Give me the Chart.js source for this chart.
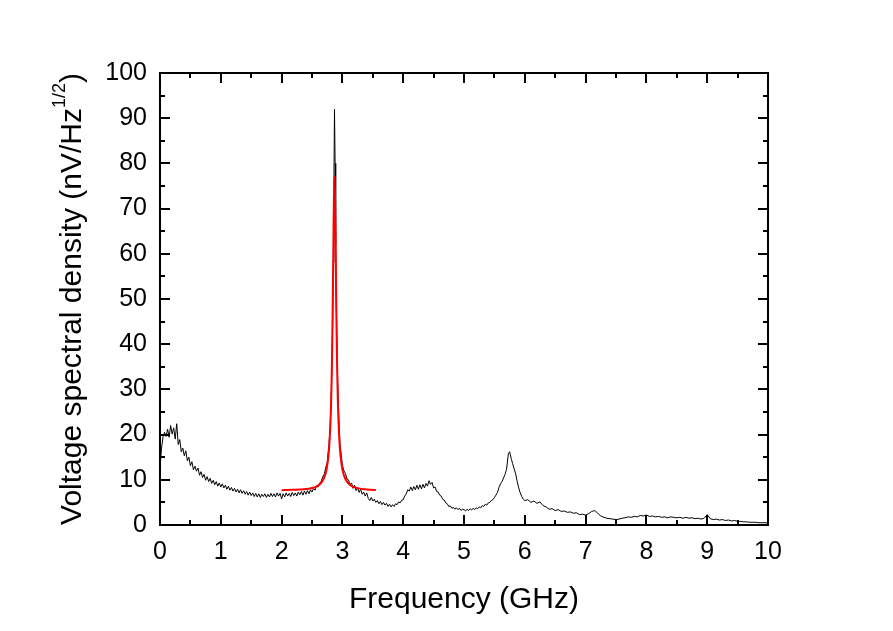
<!DOCTYPE html>
<html>
<head>
<meta charset="utf-8">
<script src="https://cdn.jsdelivr.net/npm/chart.js@4.4.0/dist/chart.umd.min.js"></script>
<style>
  html, body { margin: 0; padding: 0; background: #fff; }
  #wrap { width: 893px; height: 631px; position: relative; }
</style>
</head>
<body>
<div id="wrap"><canvas id="vsdChart"></canvas></div>
<script>
// measured spectrum (GHz, nV/Hz^1/2)
const spectrumFreq = [
  0.000, 0.025, 0.050, 0.075, 0.100, 0.125, 0.150, 0.175, 0.200, 0.225,
  0.250, 0.275, 0.300, 0.325, 0.350, 0.375, 0.400, 0.425, 0.450, 0.475,
  0.500, 0.525, 0.550, 0.575, 0.600, 0.625, 0.650, 0.675, 0.700, 0.725,
  0.750, 0.775, 0.800, 0.825, 0.850, 0.875, 0.900, 0.925, 0.950, 0.975,
  1.000, 1.025, 1.050, 1.075, 1.100, 1.125, 1.150, 1.175, 1.200, 1.225,
  1.250, 1.275, 1.300, 1.325, 1.350, 1.375, 1.400, 1.425, 1.450, 1.475,
  1.500, 1.525, 1.550, 1.575, 1.600, 1.625, 1.650, 1.675, 1.700, 1.725,
  1.750, 1.775, 1.800, 1.825, 1.850, 1.875, 1.900, 1.925, 1.950, 1.975,
  2.000, 2.025, 2.050, 2.075, 2.100, 2.125, 2.150, 2.175, 2.200, 2.225,
  2.250, 2.275, 2.300, 2.325, 2.350, 2.375, 2.400, 2.425, 2.450, 2.475,
  2.500, 2.525, 2.550, 2.575, 2.600, 2.625, 2.650, 2.675, 2.700, 2.725,
  2.750,
  2.78, 2.80, 2.82, 2.84, 2.85, 2.86, 2.87, 2.88, 2.89, 2.90, 2.92, 2.94, 2.96,
  3.000, 3.025, 3.050, 3.075, 3.100, 3.125, 3.150, 3.175, 3.200, 3.225,
  3.250, 3.275, 3.300, 3.325, 3.350, 3.375, 3.400, 3.425, 3.450, 3.475,
  3.500, 3.525, 3.550, 3.575, 3.600, 3.625, 3.650, 3.675, 3.700, 3.725,
  3.750, 3.775, 3.800, 3.825, 3.850, 3.875, 3.900, 3.925, 3.950, 3.975,
  4.000, 4.025, 4.050, 4.075, 4.100, 4.125, 4.150, 4.175, 4.200, 4.225,
  4.250, 4.275, 4.300, 4.325, 4.350, 4.375, 4.400, 4.425, 4.450, 4.475,
  4.500, 4.525, 4.550, 4.575, 4.600, 4.625, 4.650, 4.675, 4.700, 4.725,
  4.750, 4.775, 4.800, 4.825, 4.850, 4.875, 4.900, 4.925, 4.950, 4.975,
  5.000, 5.025, 5.050, 5.075, 5.100, 5.125, 5.150, 5.175, 5.200, 5.225,
  5.250, 5.275, 5.300, 5.325, 5.350, 5.375, 5.400, 5.425, 5.450, 5.475,
  5.500, 5.525, 5.550, 5.575, 5.600, 5.625, 5.650, 5.675, 5.700,
  5.730, 5.750, 5.780, 5.800, 5.825, 5.850, 5.875, 5.900, 5.925, 5.950, 5.975,
  6.00, 6.05, 6.10, 6.15, 6.20, 6.25, 6.30, 6.35, 6.40, 6.45,
  6.50, 6.55, 6.60, 6.65, 6.70, 6.75, 6.80, 6.85, 6.90, 6.95,
  7.00, 7.05, 7.10, 7.15, 7.20, 7.25, 7.30, 7.35, 7.40, 7.45,
  7.50, 7.55, 7.60, 7.65, 7.70, 7.75, 7.80, 7.85, 7.90, 7.95,
  8.00, 8.05, 8.10, 8.15, 8.20, 8.25, 8.30, 8.35, 8.40, 8.45,
  8.50, 8.55, 8.60, 8.65, 8.70, 8.75, 8.80, 8.85, 8.90, 8.95,
  9.00, 9.05, 9.10, 9.15, 9.20, 9.25, 9.30, 9.35, 9.40, 9.45,
  9.50, 9.55, 9.60, 9.65, 9.70, 9.75, 9.80, 9.85, 9.90, 9.95, 10.00
];
const spectrumVsd = [
  12.5, 17.0, 19.5, 20.5, 19.6, 21.2, 19.4, 22.0, 20.1, 21.5,
  19.0, 22.4, 17.8, 18.9, 16.2, 17.0, 15.3, 16.4, 14.2, 15.0,
  13.1, 14.0, 12.2, 13.0, 11.9, 12.6, 11.0, 11.8, 10.5, 11.2,
  9.9, 10.7, 9.6, 10.3, 9.2, 9.9, 8.9, 9.6, 8.6, 9.3,
  8.4, 9.1, 8.2, 8.8, 7.9, 8.6, 7.7, 8.3, 7.5, 8.1,
  7.3, 7.9, 7.1, 7.8, 7.0, 7.6, 6.8, 7.4, 6.6, 7.3,
  6.5, 7.1, 6.3, 7.0, 6.2, 6.9, 6.1, 6.8, 6.3, 6.9,
  6.1, 6.8, 6.2, 7.0, 6.3, 6.9, 6.2, 7.1, 6.4, 7.0,
  5.8, 6.9, 6.2, 7.1, 6.4, 7.0, 6.3, 7.2, 6.5, 7.1,
  6.4, 7.3, 6.7, 7.4, 6.6, 7.5, 6.8, 7.6, 6.9, 7.8,
  7.3, 8.1, 7.7, 8.6, 8.4, 9.3, 9.6, 10.6, 11.2, 12.6,
  13.8,
  18.0, 22.0, 30.0, 45.0, 58.0, 75.0, 92.0, 80.0, 62.0, 48.0, 33.0, 24.0, 18.0,
  13.2, 12.0, 11.4, 10.2, 10.0, 8.9, 9.3, 8.1, 8.8, 7.6,
  8.2, 7.2, 7.9, 6.8, 7.3, 6.4, 7.1, 5.9, 5.4, 6.1,
  5.3, 5.7, 5.0, 5.4, 4.7, 5.2, 4.5, 5.0, 4.4, 4.8,
  4.1, 4.6, 4.0, 4.5, 4.1, 4.7, 4.5, 5.1, 4.9, 5.5,
  5.6, 6.4, 6.9, 7.8, 7.5, 8.4, 7.6, 8.5, 7.8, 8.8,
  7.9, 8.9, 8.0, 9.0, 8.2, 9.2, 8.6, 9.8, 9.0, 9.4,
  8.2, 8.4, 7.4, 7.3, 6.6, 6.4, 5.7, 5.5, 4.9, 4.7,
  4.1, 4.2, 3.7, 3.9, 3.5, 3.8, 3.4, 3.7, 3.2, 3.5,
  3.4, 3.1, 3.5, 3.2, 3.6, 3.3, 3.7, 3.4, 3.8, 3.6,
  4.0, 3.8, 4.3, 4.1, 4.6, 4.4, 4.9, 5.0, 5.4, 5.6,
  6.1, 6.6, 7.2, 8.3, 9.1, 9.6, 10.4, 11.2, 12.3,
  15.8, 16.2, 14.5, 13.6, 12.4, 11.3, 9.6, 8.2, 7.1, 6.3, 5.7,
  5.4, 5.6, 5.0, 5.3, 4.8, 5.1, 4.3, 4.0, 3.5, 3.6,
  3.2, 3.4, 3.0, 3.1, 2.8, 2.9, 2.6, 2.7, 2.3, 2.4,
  2.2, 2.5, 3.0, 3.2, 2.6, 2.0, 1.7, 1.5, 1.4, 1.3,
  1.2, 1.3, 1.5, 1.6, 1.8, 1.7, 1.9, 1.8, 2.1, 2.0,
  2.2, 1.9, 2.0, 1.8, 1.9, 1.7, 1.8, 1.6, 1.8, 1.7,
  1.6, 1.7, 1.5, 1.7, 1.5, 1.6, 1.4, 1.5, 1.3, 1.5,
  2.3, 1.4, 1.2, 1.3, 1.1, 1.2, 1.0, 1.1, 0.9, 1.0,
  0.8, 0.8, 0.7, 0.7, 0.6, 0.6, 0.6, 0.5, 0.5, 0.5, 0.5
];

// fitted resonance (red)
const fitFreq = [
  2.00, 2.10, 2.20, 2.30, 2.40, 2.50, 2.57, 2.62, 2.67, 2.71,
  2.74, 2.77, 2.79, 2.81, 2.82, 2.83, 2.84, 2.85, 2.86, 2.87,
  2.88, 2.89, 2.90, 2.91, 2.92, 2.93, 2.95, 2.97, 3.00, 3.03,
  3.07, 3.12, 3.17, 3.27, 3.37, 3.47, 3.55
];
const fitVsd = [
  7.7, 7.75, 7.8, 7.85, 7.95, 8.2, 8.5, 8.9, 9.7, 10.8,
  12.3, 15.2, 18.8, 25.2, 30.5, 37.7, 47.7, 60.0, 71.9, 77.1,
  71.9, 60.0, 47.7, 37.7, 30.5, 25.2, 18.8, 15.2, 12.3, 10.8,
  9.7, 8.9, 8.5, 8.1, 7.9, 7.8, 7.75
];

const xTicks = [0, 1, 2, 3, 4, 5, 6, 7, 8, 9, 10];
const yTicks = [0, 10, 20, 30, 40, 50, 60, 70, 80, 90, 100];

const FONT = "'Liberation Sans', Arial, sans-serif";

function toPoints(xs, ys) {
  return xs.map((x, i) => ({ x: x, y: ys[i] }));
}

// frame + inward ticks on all four sides, and the y title with superscript
const framePlugin = {
  id: 'frame',
  afterDatasetsDraw(chart) {
    const { ctx, chartArea: a, scales } = chart;
    const sx = scales.x, sy = scales.y;
    ctx.save();
    ctx.strokeStyle = '#000';
    ctx.lineWidth = 2;
    ctx.strokeRect(a.left, a.top, a.right - a.left, a.bottom - a.top);

    ctx.beginPath();
    xTicks.forEach((v, i) => {
      const px = Math.round(sx.getPixelForValue(v));
      ctx.moveTo(px, a.bottom); ctx.lineTo(px, a.bottom - 10);
      ctx.moveTo(px, a.top); ctx.lineTo(px, a.top + 10);
      if (i < xTicks.length - 1) {
        const mx = Math.round(sx.getPixelForValue((v + xTicks[i + 1]) / 2));
        ctx.moveTo(mx, a.bottom); ctx.lineTo(mx, a.bottom - 5);
        ctx.moveTo(mx, a.top); ctx.lineTo(mx, a.top + 5);
      }
    });
    yTicks.forEach((v, i) => {
      const py = Math.round(sy.getPixelForValue(v));
      ctx.moveTo(a.left, py); ctx.lineTo(a.left + 10, py);
      ctx.moveTo(a.right, py); ctx.lineTo(a.right - 10, py);
      if (i < yTicks.length - 1) {
        const my = Math.round(sy.getPixelForValue((v + yTicks[i + 1]) / 2));
        ctx.moveTo(a.left, my); ctx.lineTo(a.left + 5, my);
        ctx.moveTo(a.right, my); ctx.lineTo(a.right - 5, my);
      }
    });
    ctx.stroke();
    ctx.restore();
  },
  afterDraw(chart) {
    const { ctx, chartArea: a } = chart;
    const main = 'Voltage spectral density (nV/Hz';
    const sup = '1/2';
    const close = ')';
    ctx.save();
    ctx.fillStyle = '#000';
    ctx.textBaseline = 'middle';
    ctx.textAlign = 'left';
    ctx.font = '30px ' + FONT;
    const w1 = ctx.measureText(main).width;
    const w3 = ctx.measureText(close).width;
    ctx.font = '18px ' + FONT;
    const w2 = ctx.measureText(sup).width;
    const total = w1 + w2 + w3;
    ctx.translate(73, (a.top + a.bottom) / 2);
    ctx.rotate(-Math.PI / 2);
    let x0 = -total / 2;
    ctx.font = '30px ' + FONT;
    ctx.fillText(main, x0, 0);
    ctx.font = '18px ' + FONT;
    ctx.fillText(sup, x0 + w1, -13);
    ctx.font = '30px ' + FONT;
    ctx.fillText(close, x0 + w1 + w2, 0);
    ctx.restore();
  }
};

new Chart(document.getElementById('vsdChart'), {
  type: 'line',
  data: {
    datasets: [
      {
        label: 'fit',
        data: toPoints(fitFreq, fitVsd),
        borderColor: '#ff0000',
        borderWidth: 2,
        pointRadius: 0,
        tension: 0.3,
        order: 0
      },
      {
        label: 'spectrum',
        data: toPoints(spectrumFreq, spectrumVsd),
        borderColor: '#000000',
        borderWidth: 1,
        pointRadius: 0,
        tension: 0,
        order: 1
      }
    ]
  },
  options: {
    responsive: true,
    maintainAspectRatio: false,
    animation: false,
    layout: { padding: { top: 73, right: 125, left: 0, bottom: 0 } },
    plugins: {
      legend: { display: false },
      tooltip: { enabled: false }
    },
    scales: {
      x: {
        type: 'linear',
        min: 0,
        max: 10,
        afterBuildTicks: s => { s.ticks = xTicks.map(v => ({ value: v })); },
        afterFit: s => { s.height = 106; },
        grid: { display: false, drawTicks: false },
        border: { display: false },
        ticks: {
          color: '#000',
          font: { size: 25, family: FONT },
          padding: 12,
          maxRotation: 0,
          autoSkip: false
        },
        title: {
          display: true,
          text: 'Frequency (GHz)',
          color: '#000',
          font: { size: 30, family: FONT },
          padding: { top: 0, bottom: 13 }
        }
      },
      y: {
        type: 'linear',
        min: 0,
        max: 100,
        afterBuildTicks: s => { s.ticks = yTicks.map(v => ({ value: v })); },
        afterFit: s => { s.width = 160; },
        grid: { display: false, drawTicks: false },
        border: { display: false },
        ticks: {
          color: '#000',
          font: { size: 25, family: FONT },
          padding: 13
        }
      }
    }
  },
  plugins: [framePlugin]
});
</script>
</body>
</html>
